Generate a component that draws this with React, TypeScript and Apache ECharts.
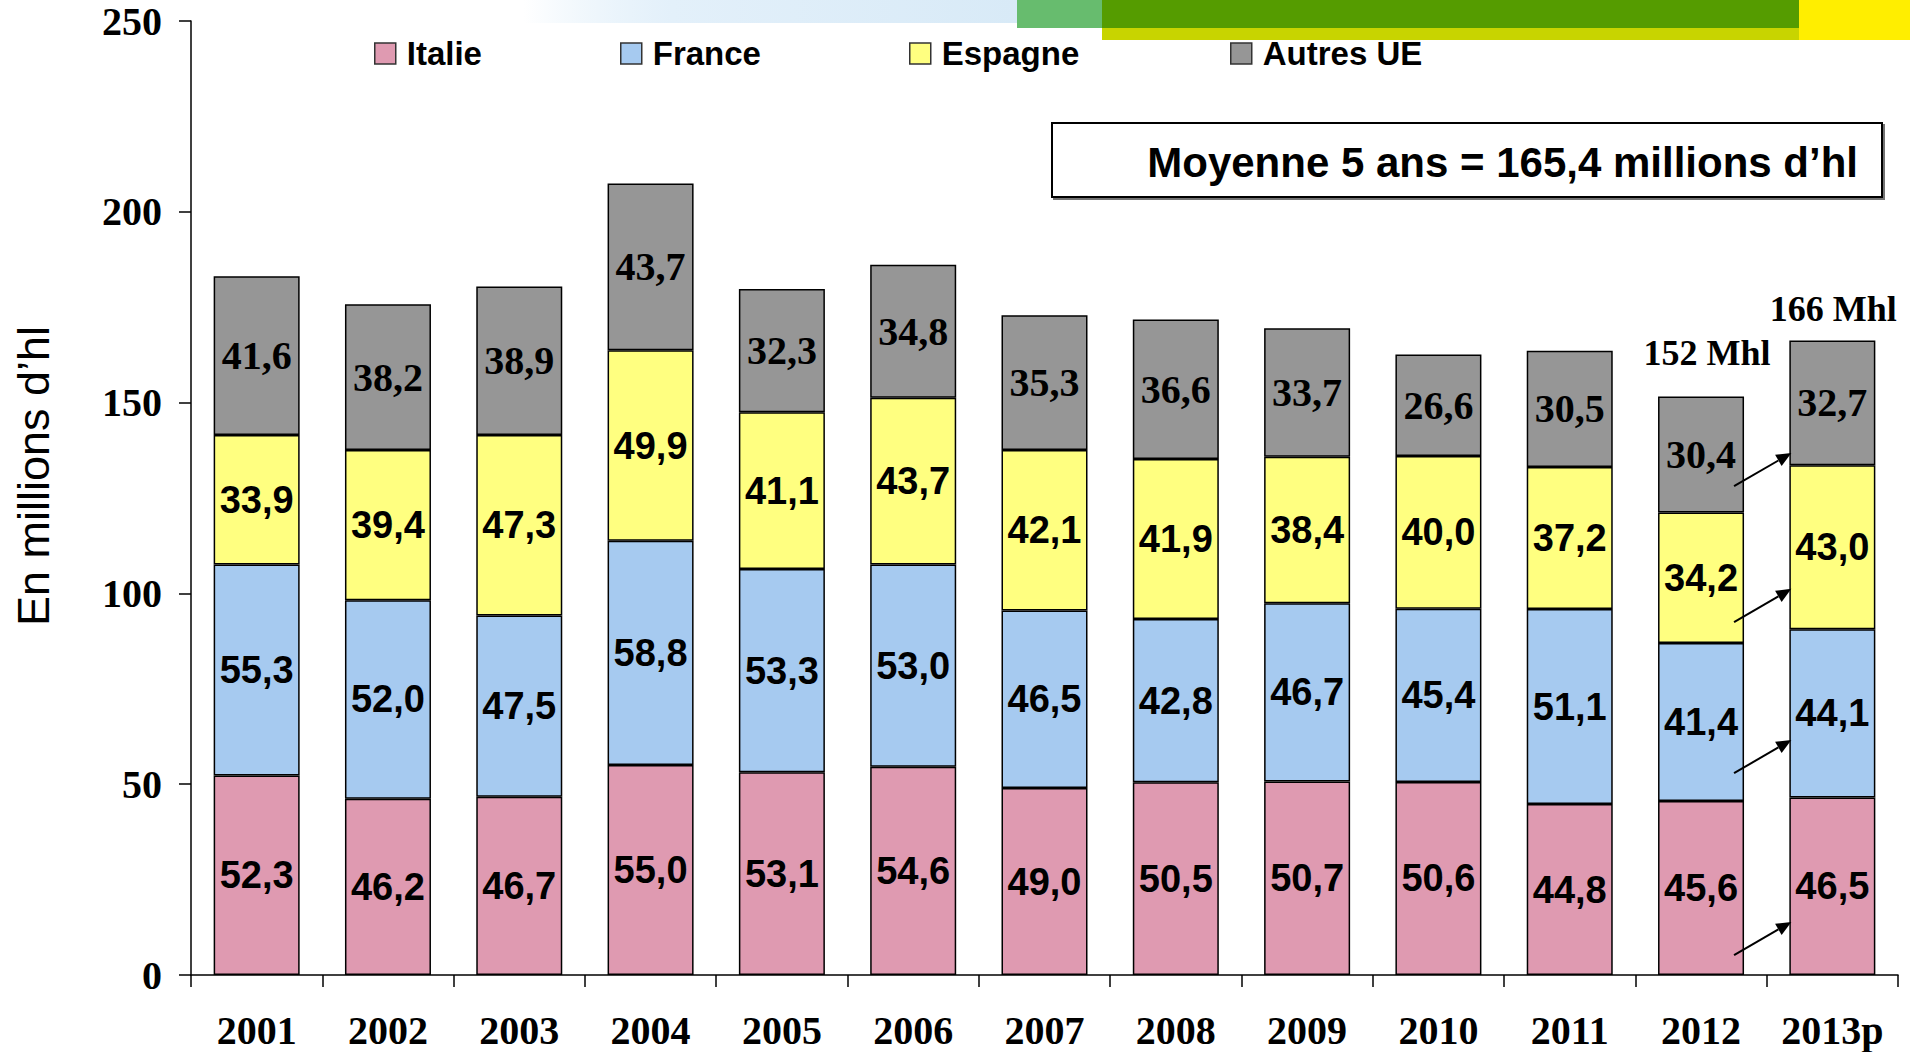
import React, { useEffect, useRef } from "react";
import * as echarts from "echarts";

const years = ["2001", "2002", "2003", "2004", "2005", "2006", "2007", "2008", "2009", "2010", "2011", "2012", "2013p"];
const italie = [52.3, 46.2, 46.7, 55.0, 53.1, 54.6, 49.0, 50.5, 50.7, 50.6, 44.8, 45.6, 46.5];
const france = [55.3, 52.0, 47.5, 58.8, 53.3, 53.0, 46.5, 42.8, 46.7, 45.4, 51.1, 41.4, 44.1];
const espagne = [33.9, 39.4, 47.3, 49.9, 41.1, 43.7, 42.1, 41.9, 38.4, 40.0, 37.2, 34.2, 43.0];
const autres = [41.6, 38.2, 38.9, 43.7, 32.3, 34.8, 35.3, 36.6, 33.7, 26.6, 30.5, 30.4, 32.7];
const yTicks = [0, 50, 100, 150, 200, 250];

const seriesNames = ["Italie", "France", "Espagne", "Autres UE"];
const seriesColors = ["#DF9AB1", "#A6CAF0", "#FFFF80", "#969696"];
const legendLeft = [374, 620, 909, 1230];

const averageNote = "Moyenne 5 ans = 165,4 millions d\u2019hl";
const yAxisTitle = "En millions d\u2019hl";
const totalNotes = [
  { cat: 11, text: "152 Mhl", gap: 43, dx: 6 },
  { cat: 12, text: "166 Mhl", gap: 31, dx: 1 },
];
// arrows from 2012 to 2013p: [start value, end value]
const arrowValues = [
  [5.2, 13.9],
  [52.9, 61.6],
  [92.5, 101.2],
  [128.1, 136.8],
];

const fmt = (v: number) => v.toFixed(1).replace(".", ",");

export default function App() {
  const ref = useRef<HTMLDivElement>(null);

  useEffect(() => {
    if (!ref.current) return;
    const chart = echarts.init(ref.current, null, { renderer: "svg" });
    const data = [italie, france, espagne, autres];

    const sansLabel = {
      show: true,
      position: "inside",
      fontFamily: "'Liberation Sans', Arial, sans-serif",
      fontWeight: "bold",
      fontSize: 38,
      color: "#000",
      formatter: (p: any) => fmt(p.value),
    };
    const serifLabel = {
      ...sansLabel,
      fontFamily: "'Liberation Serif', 'Times New Roman', serif",
      fontSize: 40,
    };

    chart.setOption({
      animation: false,
      backgroundColor: "#fff",
      grid: { left: 191, right: 12, top: 21, bottom: 77 },
      legend: seriesNames.map((n, i) => ({
        data: [n],
        left: legendLeft[i],
        top: 37,
        padding: 0,
        itemWidth: 21,
        itemHeight: 21,
        icon: "rect",
        itemStyle: { borderColor: "#333", borderWidth: 1.5 },
        textStyle: {
          fontFamily: "'Liberation Sans', Arial, sans-serif",
          fontWeight: "bold",
          fontSize: 33,
          color: "#000",
          padding: [0, 0, 0, 6],
        },
        selectedMode: false,
      })),
      xAxis: {
        type: "category",
        data: years,
        axisLine: { lineStyle: { color: "#000", width: 1.5 } },
        axisTick: { show: true, length: 12, lineStyle: { color: "#000", width: 1.5 } },
        axisLabel: {
          interval: 0,
          margin: 35,
          fontFamily: "'Liberation Serif', 'Times New Roman', serif",
          fontWeight: "bold",
          fontSize: 40,
          color: "#000",
        },
      },
      yAxis: {
        type: "value",
        min: yTicks[0],
        max: yTicks[yTicks.length - 1],
        interval: 50,
        splitLine: { show: false },
        axisLine: { show: true, lineStyle: { color: "#000", width: 1.5 } },
        axisTick: { show: true, length: 12, lineStyle: { color: "#000", width: 1.5 } },
        axisLabel: {
          margin: 29,
          fontFamily: "'Liberation Serif', 'Times New Roman', serif",
          fontWeight: "bold",
          fontSize: 40,
          color: "#000",
        },
      },
      series: seriesNames.map((n, i) => ({
        name: n,
        type: "bar",
        stack: "total",
        data: data[i],
        barCategoryGap: "34.5%",
        itemStyle: { color: seriesColors[i], borderColor: "#000", borderWidth: 1.5 },
        label: i === 3 ? serifLabel : sansLabel,
      })),
    });

    const px = (cat: number, v: number) => chart.convertToPixel({ gridIndex: 0 }, [cat, v]) as number[];
    const halfBar = 43;

    const graphics: any[] = [
      // top decorative banner
      {
        type: "rect",
        shape: { x: 524, y: 0, width: 493, height: 23 },
        style: {
          fill: new echarts.graphic.LinearGradient(0, 0, 1, 0, [
            { offset: 0, color: "rgba(214,234,248,0)" },
            { offset: 0.3, color: "#E3F0FA" },
            { offset: 1, color: "#D8EAF7" },
          ]),
        },
        silent: true,
      },
      { type: "rect", shape: { x: 1017, y: 0, width: 85, height: 28 }, style: { fill: "#67BC6E" }, silent: true },
      { type: "rect", shape: { x: 1102, y: 0, width: 697, height: 28 }, style: { fill: "#559C00" }, silent: true },
      { type: "rect", shape: { x: 1102, y: 28, width: 697, height: 12 }, style: { fill: "#C8D400" }, silent: true },
      { type: "rect", shape: { x: 1799, y: 0, width: 111, height: 40 }, style: { fill: "#FFEE00" }, silent: true },
      // average box
      {
        type: "rect",
        shape: { x: 1052, y: 123, width: 830, height: 74 },
        style: {
          fill: "#fff",
          stroke: "#000",
          lineWidth: 2,
          shadowColor: "rgba(0,0,0,0.55)",
          shadowOffsetX: 2,
          shadowOffsetY: 2,
          shadowBlur: 0,
        },
      },
      {
        type: "text",
        x: 1858,
        y: 162,
        style: {
          text: averageNote,
          align: "right",
          verticalAlign: "middle",
          fontFamily: "'Liberation Sans', Arial, sans-serif",
          fontWeight: "bold",
          fontSize: 42,
          fill: "#000",
        },
      },
      // y axis title
      {
        type: "text",
        x: 33,
        y: 476,
        rotation: Math.PI / 2,
        style: {
          text: yAxisTitle,
          align: "center",
          verticalAlign: "middle",
          fontFamily: "'Liberation Sans', Arial, sans-serif",
          fontSize: 45,
          fill: "#000",
        },
      },
    ];

    totalNotes.forEach((n) => {
      const total = italie[n.cat] + france[n.cat] + espagne[n.cat] + autres[n.cat];
      const p = px(n.cat, total);
      graphics.push({
        type: "text",
        x: p[0] + n.dx,
        y: p[1] - n.gap,
        style: {
          text: n.text,
          align: "center",
          verticalAlign: "middle",
          fontFamily: "'Liberation Serif', 'Times New Roman', serif",
          fontWeight: "bold",
          fontSize: 36,
          fill: "#000",
        },
      });
    });

    arrowValues.forEach(([v0, v1]) => {
      const a = px(11, v0);
      const b = px(12, v1);
      const x1 = a[0] + halfBar - 10;
      const y1 = a[1];
      const x2 = b[0] - halfBar + 2;
      const y2 = b[1];
      const dx = x2 - x1;
      const dy = y2 - y1;
      const len = Math.sqrt(dx * dx + dy * dy);
      const ux = dx / len;
      const uy = dy / len;
      const hl = 15;
      const hw = 6.5;
      const bx = x2 - ux * hl;
      const by = y2 - uy * hl;
      graphics.push({
        type: "line",
        shape: { x1, y1, x2: bx, y2: by },
        style: { stroke: "#000", lineWidth: 2 },
        z: 10,
      });
      graphics.push({
        type: "polygon",
        shape: {
          points: [
            [x2, y2],
            [bx - uy * hw, by + ux * hw],
            [bx + uy * hw, by - ux * hw],
          ],
        },
        style: { fill: "#000" },
        z: 10,
      });
    });

    chart.setOption({ graphic: graphics });

    return () => chart.dispose();
  }, []);

  return (
    <div
      ref={ref}
      style={{ position: "fixed", left: 0, top: 0, width: 1910, height: 1052, background: "#fff" }}
    />
  );
}
